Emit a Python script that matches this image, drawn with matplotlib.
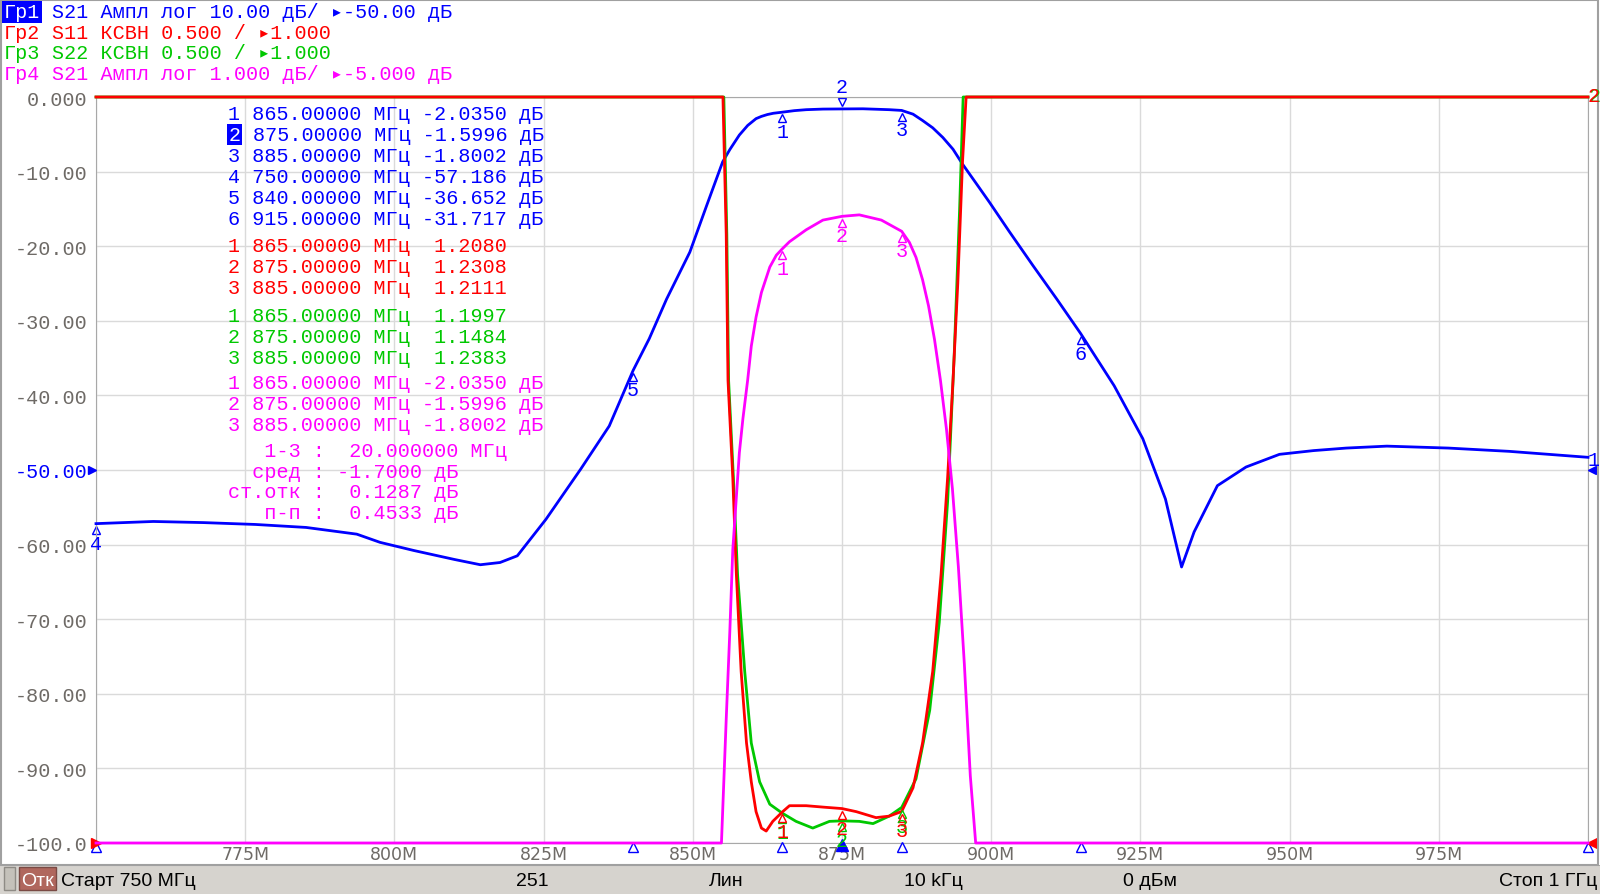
import numpy as np
import matplotlib
matplotlib.use('Agg')
import matplotlib.pyplot as plt
from matplotlib.patches import Rectangle
from matplotlib.transforms import offset_copy, ScaledTranslation

# ---- trace data (MHz, value) ----
# Гр1: S21, dB
f_s21 = [750, 759.6, 768.0, 776.7, 785.2, 793.7, 797.6, 803.3, 810.1, 814.4, 817.7, 820.6,
         825.4, 831.2, 836.0, 840.0, 842.7, 845.6, 849.5, 852.3, 855.0, 856.2, 857.8, 859.2,
         860.6, 861.5, 862.5, 863.5, 865.0, 867.0, 869.0, 871.8, 875.0, 878.5, 882.9, 885.0,
         886.9, 888.5, 890.2, 891.9, 893.6, 895.2, 897.5, 899.7, 903.0, 907.0, 911.0, 915.0,
         920.6, 925.4, 929.2, 931.9, 934.0, 937.9, 942.7, 948.3, 954.0, 959.5, 966.3, 976.6,
         986.8, 1000.0]
s21_db = [-57.19, -56.9, -57.05, -57.3, -57.7, -58.6, -59.7, -60.8, -62.0, -62.7, -62.4, -61.5,
          -56.6, -49.9, -44.1, -36.65, -32.4, -27.1, -20.8, -14.6, -8.7, -7.05, -5.1, -3.81,
          -2.9, -2.6, -2.35, -2.18, -2.035, -1.83, -1.70, -1.62, -1.60, -1.58, -1.70, -1.80,
          -2.3, -3.15, -4.13, -5.43, -7.0, -9.0, -11.6, -14.1, -18.0, -22.6, -27.1, -31.72,
          -38.7, -45.8, -53.9, -63.0, -58.3, -52.1, -49.6, -47.9, -47.4, -47.06, -46.8, -47.06,
          -47.5, -48.3]

# Гр2: S11, VSWR (screen clipped at 6.0)
f_s11 = [750, 855.05, 855.6, 855.9, 856.7, 857.3, 858.1, 859.0, 859.8, 860.6, 861.5, 862.3,
         863.4, 865.0, 866.2, 869.0, 872.0, 875.0, 877.4, 880.7, 882.9, 885.0, 886.9, 888.5,
         890.2, 891.6, 892.7, 893.6, 894.4, 895.2, 895.8, 1000]
s11_vswr = [6.0, 6.0, 5.08, 4.10, 3.45, 2.80, 2.15, 1.67, 1.41, 1.21, 1.10, 1.08,
            1.145, 1.208, 1.25, 1.25, 1.24, 1.2308, 1.21, 1.17, 1.18, 1.2111, 1.37, 1.67,
            2.15, 2.80, 3.45, 4.10, 4.75, 5.57, 6.0, 6.0]

# Гр3: S22, VSWR
f_s22 = [750, 855.2, 855.7, 856.0, 856.8, 857.5, 858.7, 859.8, 861.2, 862.9, 865.0, 867.3,
         870.1, 872.9, 875.0, 877.9, 880.2, 882.9, 885.0, 887.4, 889.7, 891.3, 892.7, 893.8,
         894.7, 895.3, 1000]
s22_vswr = [6.0, 6.0, 5.08, 4.10, 3.45, 2.80, 2.15, 1.67, 1.41, 1.26, 1.1997, 1.145,
            1.10, 1.145, 1.1484, 1.145, 1.13, 1.18, 1.2383, 1.43, 1.89, 2.48, 3.29, 4.27,
            5.24, 6.0, 6.0]

# Гр4: S21 zoomed, dB (screen clipped at -10)
f_s21z = [750, 854.8, 855.6, 856.2, 856.7, 857.8, 858.4, 859.2, 859.8, 860.6, 861.5, 862.9,
          864.0, 865.0, 866.2, 869.0, 871.8, 875.0, 877.9, 881.6, 885.0, 886.3, 887.4, 888.5,
          889.5, 890.5, 891.5, 892.5, 893.5, 894.5, 895.5, 896.5, 897.4, 1000]
s21z_db = [-10, -10, -8.34, -7.17, -6.07, -4.77, -4.31, -3.79, -3.34, -2.95, -2.62, -2.28,
           -2.12, -2.035, -1.94, -1.78, -1.65, -1.5996, -1.58, -1.65, -1.8002, -1.95, -2.15, -2.45,
           -2.8, -3.25, -3.8, -4.45, -5.25, -6.3, -7.6, -9.1, -10, -10]

# ---- marker readouts ----
mk_f_1 = [865, 875, 885, 750, 840, 915]
mk_v_1 = [-2.0350, -1.5996, -1.8002, -57.186, -36.652, -31.717]
mk_f_2 = [865, 875, 885]
mk_v_2 = [1.2080, 1.2308, 1.2111]
mk_f_3 = [865, 875, 885]
mk_v_3 = [1.1997, 1.1484, 1.2383]
mk_f_4 = [865, 875, 885]
mk_v_4 = [-2.0350, -1.5996, -1.8002]
stats_lines = ["   1-3 :  20.000000 МГц", "  сред : -1.7000 дБ",
               "ст.отк :  0.1287 дБ", "   п-п :  0.4533 дБ"]

header = [("Гр1", "S21 Ампл лог 10.00 дБ/ ▸-50.00 дБ"),
          ("Гр2", "S11 КСВН 0.500 / ▸1.000"),
          ("Гр3", "S22 КСВН 0.500 / ▸1.000"),
          ("Гр4", "S21 Ампл лог 1.000 дБ/ ▸-5.000 дБ")]
status = [("Старт 750 МГц", 61, 'left'), ("251", 532, 'center'), ("Лин", 726, 'center'),
          ("10 kГц", 933, 'center'), ("0 дБм", 1150, 'center'), ("Стоп 1 ГГц", 1597, 'right')]

BLUE, RED, GREEN, MAG = '#0000ff', '#ff0000', '#00c800', '#ff00ff'
GRAY = '#6e6a66'
MONO = ['Liberation Mono', 'DejaVu Sans Mono']
FS = 14.5
W, H = 1600, 895
CW = 0.6001 * FS * 100 / 72


def fx(x):
    return x / W


def fy(y):
    return 1 - y / H


def fmt(v, sig):
    d = len(str(int(abs(v))))
    s = f"{abs(v):.{max(sig - d, 0)}f}"
    return ('-' if v < 0 else ' ') + s


fig = plt.figure(figsize=(16, 8.95), dpi=100)
fig.patch.set_facecolor('white')

# status bar + frame
fig.patches.append(Rectangle((0, 0), 1, fy(866), transform=fig.transFigure,
                             facecolor='#d6d3ce', edgecolor='none'))
fig.patches.append(Rectangle((0, fy(867)), 1, 1.5 / H, transform=fig.transFigure,
                             facecolor='#a8a59f', edgecolor='none'))
fig.patches.append(Rectangle((fx(1), fy(866)), 1597 / W, 865 / H, transform=fig.transFigure,
                             fill=False, edgecolor='#a0a0a0', lw=1.5))
fig.patches.append(Rectangle((fx(4), fy(891)), 11 / W, 23 / H, transform=fig.transFigure,
                             facecolor='#c4c1ba', edgecolor='#8e8b85', lw=1))
fig.patches.append(Rectangle((fx(19), fy(891)), 37 / W, 23 / H, transform=fig.transFigure,
                             facecolor='#b0675d', edgecolor='#7a4a44', lw=1))
fig.text(fx(37.5), fy(886), "Отк", color='white', fontsize=14, family='Liberation Sans',
         ha='center', va='baseline')
for txt, x, ha in status:
    fig.text(fx(x), fy(886), txt, color='black', fontsize=14, family='Liberation Sans',
             ha=ha, va='baseline')

# main axes (Гр1 scale)
ax = fig.add_axes([fx(96), fy(844), (1588 - 96) / W, (844 - 98) / H])
ax.set_xlim(750, 1000)
ax.set_ylim(-100, 0)
xt = np.arange(750, 1001, 25)
ax.set_xticks(xt)
ax.set_xticklabels(['' if v in (750, 1000) else f"{v}M" for v in xt],
                   fontsize=12.5, color=GRAY)
yt = np.arange(-100, 1, 10)
ax.set_yticks(yt)
ax.set_yticklabels([fmt(v, 4).strip() for v in yt], family=MONO, fontsize=FS, color=GRAY)
up = ScaledTranslation(0, 2.5 / 100, fig.dpi_scale_trans)
for lab, v in zip(ax.get_yticklabels(), yt):
    lab.set_transform(lab.get_transform() + up)
    if v == -50:
        lab.set_color(BLUE)
ax.tick_params(length=0)
ax.tick_params(axis='y', pad=6)
ax.tick_params(axis='x', pad=1.5)
ax.grid(color='#dadada', lw=1)
for s in ax.spines.values():
    s.set_color('#a8a8a8')
ax.plot(f_s21, s21_db, color=BLUE, lw=2, clip_on=False, zorder=3)

axv = ax.twinx()
axv.set_ylim(1, 6)
axv.axis('off')
axv.plot(f_s22, s22_vswr, color=GREEN, lw=2, clip_on=False)
axv.plot(f_s11, s11_vswr, color=RED, lw=2, clip_on=False)

axm = ax.twinx()
axm.set_ylim(-10, 0)
axm.axis('off')
axm.plot(f_s21z, s21z_db, color=MAG, lw=2, clip_on=False)


def marker(a, f, v, n, color, active=False):
    if active:
        tri = offset_copy(a.transData, fig, 0, 5, units='points')
        a.plot(f, v, marker='v', ms=6, mfc='white', mec=color, mew=1, transform=tri,
               clip_on=False)
        a.annotate(str(n), (f, v), xytext=(0, 16), textcoords='offset points', color=color,
                   ha='center', va='center', family=MONO, fontsize=FS, annotation_clip=False)
    else:
        tri = offset_copy(a.transData, fig, 0, -4.5, units='points')
        a.plot(f, v, marker='^', ms=6, mfc='white', mec=color, mew=1, transform=tri,
               clip_on=False)
        a.annotate(str(n), (f, v), xytext=(0, -14), textcoords='offset points', color=color,
                   ha='center', va='center', family=MONO, fontsize=FS, annotation_clip=False)


for i, (f, v) in enumerate(zip(mk_f_1, mk_v_1)):
    marker(ax, f, v, i + 1, BLUE, active=(i == 1))
for i, (f, v) in enumerate(zip(mk_f_3, mk_v_3)):
    marker(axv, f, v, i + 1, GREEN)
for i, (f, v) in enumerate(zip(mk_f_2, mk_v_2)):
    marker(axv, f, v, i + 1, RED)
for i, (f, v) in enumerate(zip(mk_f_4, mk_v_4)):
    marker(axm, f, v, i + 1, MAG)

# stimulus marker ticks under the axis
below = offset_copy(ax.transData, fig, 0, -4, units='dots')
for f in [750, 840, 865, 885, 915, 1000]:
    ax.plot(f, -100, marker='^', ms=7, mfc='white', mec=BLUE, mew=1, transform=below,
            clip_on=False, zorder=5)
ax.plot(875, -100, marker='^', ms=8, color=BLUE, transform=offset_copy(ax.transData, fig, 0, -2, units='dots'),
        clip_on=False, zorder=6)

# reference level pointers
ax.plot(750, -50, marker='>', ms=6, color=BLUE, clip_on=False,
        transform=offset_copy(ax.transData, fig, -4, 0, units='dots'), zorder=6)
ax.plot(750, -100, marker='>', ms=7, color=RED, clip_on=False, zorder=6)
ax.plot(1000, -50, marker='<', ms=6, color=BLUE, clip_on=False,
        transform=offset_copy(ax.transData, fig, 4, 0, units='dots'), zorder=6)
ax.plot(1000, -100, marker='<', ms=7, color=RED, clip_on=False,
        transform=offset_copy(ax.transData, fig, 4, 0, units='dots'), zorder=6)
fig.text(fx(1594), fy(461), "1", color=BLUE, family=MONO, fontsize=FS, ha='center', va='center')
fig.text(fx(1595), fy(96), "2", color=GREEN, family=MONO, fontsize=FS, ha='center', va='center')
fig.text(fx(1594), fy(96), "2", color=RED, family=MONO, fontsize=FS, ha='center', va='center')

# channel header
hcols = [BLUE, RED, GREEN, MAG]
for k, ((tag, rest), c) in enumerate(zip(header, hcols)):
    yb = fy(18.3 + 20.5 * k)
    if k == 0:
        fig.text(fx(4), yb, tag, color='white', family=MONO, fontsize=FS, va='baseline',
                 bbox=dict(boxstyle='square,pad=0.08', fc=BLUE, ec='none'))
    else:
        fig.text(fx(4), yb, tag, color=c, family=MONO, fontsize=FS, va='baseline')
    fig.text(fx(4 + 4 * CW), yb, rest, color=c, family=MONO, fontsize=FS, va='baseline')

# marker table
X0 = 228.5
rows = []
for i, (f, v) in enumerate(zip(mk_f_1, mk_v_1)):
    rows.append((f"{i + 1} {f:.5f} МГц {fmt(v, 5)} дБ", BLUE, 120 + 21.0 * i))
for i, (f, v) in enumerate(zip(mk_f_2, mk_v_2)):
    rows.append((f"{i + 1} {f:.5f} МГц {fmt(v, 5)}", RED, 251.7 + 21.0 * i))
for i, (f, v) in enumerate(zip(mk_f_3, mk_v_3)):
    rows.append((f"{i + 1} {f:.5f} МГц {fmt(v, 5)}", GREEN, 322.3 + 21.0 * i))
for i, (f, v) in enumerate(zip(mk_f_4, mk_v_4)):
    rows.append((f"{i + 1} {f:.5f} МГц {fmt(v, 5)} дБ", MAG, 389 + 21.0 * i))
for i, s in enumerate(stats_lines):
    rows.append((s, MAG, 456.7 + 20.9 * i))

for j, (s, c, yb) in enumerate(rows):
    if j == 1:
        fig.text(fx(X0), fy(yb), s[0], color='white', family=MONO, fontsize=FS, va='baseline',
                 bbox=dict(boxstyle='square,pad=0.05', fc=BLUE, ec='none'))
        fig.text(fx(X0 + 2 * CW), fy(yb), s[2:], color=c, family=MONO, fontsize=FS,
                 va='baseline')
    else:
        fig.text(fx(X0), fy(yb), s, color=c, family=MONO, fontsize=FS, va='baseline')

fig.savefig('out.png', dpi=100, facecolor='white')
